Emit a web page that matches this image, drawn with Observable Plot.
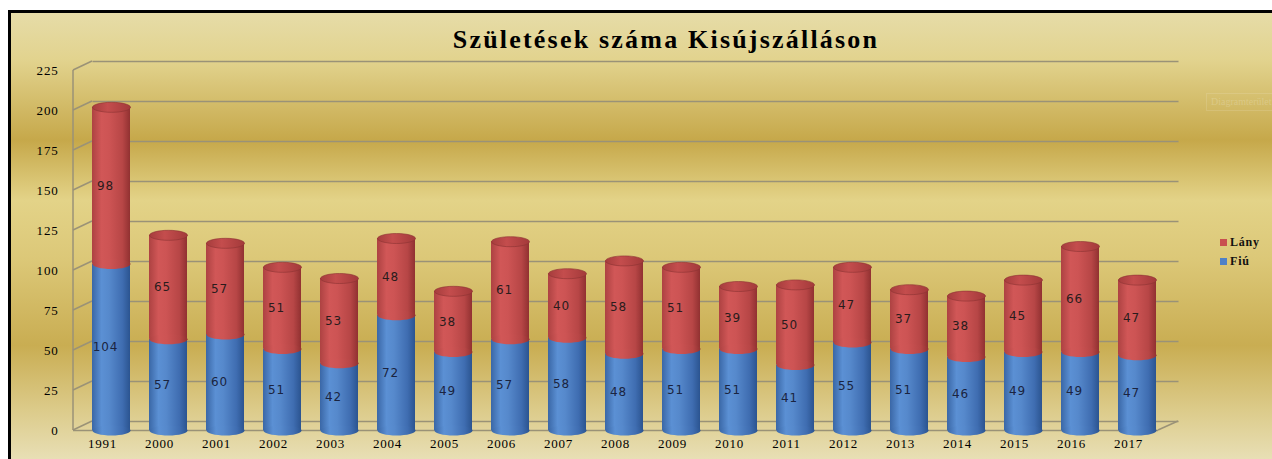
<!DOCTYPE html>
<html><head><meta charset="utf-8">
<script src="https://cdn.jsdelivr.net/npm/d3@7"></script>
<script src="https://cdn.jsdelivr.net/npm/@observablehq/plot@0.6"></script>
<style>
html,body{margin:0;padding:0;background:#fff;width:1272px;height:459px;overflow:hidden;}
#frame{position:absolute;left:8px;top:10px;width:1264px;height:449px;box-sizing:border-box;border-left:3px solid #000;border-top:3px solid #000;overflow:hidden;
background:linear-gradient(to bottom,#e6dca8 0%,#e2d38e 10.5%,#c6a84a 28.5%,#e3d388 42%,#dcc878 55%,#c9ad52 74.5%,#dccb8a 89%,#e8dfb5 100%);}
#title{position:absolute;left:0;top:13px;width:1310px;text-align:center;font-family:'Liberation Serif','Times New Roman',serif;font-weight:bold;font-size:26px;line-height:28px;letter-spacing:2.2px;color:#000;}
#chart{position:absolute;left:0;top:45px;width:1261px;}
#legend{position:absolute;left:1209px;top:220px;font-family:'Liberation Serif','Times New Roman',serif;font-weight:bold;font-size:12px;letter-spacing:0.8px;color:#111;}
#legend div{height:19px;line-height:19px;white-space:nowrap;}
#legend span.sw{display:inline-block;width:7px;height:7px;margin-right:3px;vertical-align:middle;position:relative;top:-1px;}
#ghost{position:absolute;left:1195px;top:80px;width:62px;height:16px;font-family:'Liberation Serif',serif;font-size:10px;color:rgba(255,255,255,0.2);border:1px solid rgba(255,255,255,0.12);padding-left:4px;line-height:16px;white-space:nowrap;overflow:hidden;}
</style></head>
<body>
<div id="frame">
  <div id="title">Születések száma Kisújszálláson</div>
  <div id="ghost">Diagramterület</div>
  <div id="chart"></div>
  <div id="legend"></div>
</div>
<script>
const years = ["1991","2000","2001","2002","2003","2004","2005","2006","2007","2008","2009","2010","2011","2012","2013","2014","2015","2016","2017"];
const fiu  = [104,57,60,51,42,72,49,57,58,48,51,51,41,55,51,46,49,49,47];
const lany = [98,65,57,51,53,48,38,61,40,58,51,39,50,47,37,38,45,66,47];
const yTicks = [0,25,50,75,100,125,150,175,200,225];
const seriesNames = ["Lány","Fiú"];
const seriesColors = ["#c94f4f","#4f81c7"];

const data = years.map((y,i)=>({year:y, fiu:fiu[i], lany:lany[i], total:fiu[i]+lany[i]}));

const RX = 19, RY = 5;
const ellipse = {draw(ctx){
  const k = 0.5523;
  ctx.moveTo(-RX,0);
  ctx.bezierCurveTo(-RX,-RY*k,-RX*k,-RY,0,-RY);
  ctx.bezierCurveTo(RX*k,-RY,RX,-RY*k,RX,0);
  ctx.bezierCurveTo(RX,RY*k,RX*k,RY,0,RY);
  ctx.bezierCurveTo(-RX*k,RY,-RX,RY*k,-RX,0);
  ctx.closePath();
}};

const gridColor = "#9a9277";
const plot = Plot.plot({
  width: 1261, height: 401,
  marginLeft: 71.5, marginRight: 106.5, marginTop: 12, marginBottom: 29,
  style: {background:"transparent", fontFamily:"'Liberation Serif','Times New Roman',serif", fontSize:"13px", color:"#000", overflow:"visible", letterSpacing:"0.8px", maxWidth:"none"},
  x: {domain: years, paddingInner: 0.3333, paddingOuter: 0.3333, range: [62, 1164], round: false, axis: null},
  y: {domain: [0,225], axis: null},
  marks: [
    Plot.ruleY(yTicks, {dy:-9, dx:10, insetRight:-3, stroke:gridColor, strokeWidth:1.5}),
    Plot.ruleY([0], {insetLeft:-9.5, insetRight:7.5, stroke:gridColor, strokeWidth:1.5}),
    Plot.axisY({ticks: yTicks, tickSize:0, tickPadding:24.5, anchor:"left", label:null, fontSize:13}),
    Plot.axisX({tickSize:0, tickPadding:8, dx:-9, label:null, fontSize:13}),
    Plot.barY(data, {x:"year", y1:0, y2:"fiu", fill:"url(#gBlue)"}),
    Plot.dot(data, {x:"year", y:0, symbol:ellipse, fill:"url(#gBlue)"}),
    Plot.barY(data, {x:"year", y1:"fiu", y2:"total", fill:"url(#gRed)"}),
    Plot.dot(data, {x:"year", y:"fiu", symbol:ellipse, fill:"url(#gRed)"}),
    Plot.dot(data, {x:"year", y:"total", symbol:ellipse, fill:"url(#gCap)", stroke:"#8c3232", strokeWidth:0.6}),
    Plot.text(data, {x:"year", y:d=>d.fiu/2, text:"fiu", dx:-6, fontFamily:"'DejaVu Sans',Verdana,sans-serif", fontSize:12, fill:"#1a2440"}),
    Plot.text(data, {x:"year", y:d=>d.fiu + d.lany/2, text:"lany", dx:-6, fontFamily:"'DejaVu Sans',Verdana,sans-serif", fontSize:12, fill:"#2a1c1c"})
  ]
});

const svg = d3.select(plot);
const defs = svg.insert("defs", ":first-child");
function grad(id, stops){
  const g = defs.append("linearGradient").attr("id", id).attr("x1","0").attr("x2","1").attr("y1","0").attr("y2","0");
  stops.forEach(([o,c])=>g.append("stop").attr("offset",o).attr("stop-color",c));
}
grad("gBlue", [[0,"#3a67a6"],[0.25,"#5b90d4"],[0.45,"#5689cc"],[0.8,"#3f6db1"],[1,"#2b5490"]]);
grad("gRed",  [[0,"#ad4242"],[0.25,"#d15757"],[0.45,"#cd5454"],[0.8,"#b74646"],[1,"#913131"]]);
grad("gCap",  [[0,"#a63d3d"],[0.4,"#c44d4d"],[1,"#a33a3a"]]);

// 3D wall / floor decoration through the y scale
const ys = plot.scale("y");
const deco = svg.append("g").attr("stroke", gridColor).attr("stroke-width", 1.5).attr("fill","none");
const wallX = 62, backX = 81, depth = 9;
deco.append("line").attr("x1",wallX).attr("x2",wallX).attr("y1",ys.apply(0)).attr("y2",ys.apply(225));
yTicks.forEach(v=>{
  deco.append("line").attr("x1",wallX).attr("y1",ys.apply(v)).attr("x2",backX).attr("y2",ys.apply(v)-depth);
});
deco.append("line").attr("x1",1147).attr("y1",ys.apply(0)).attr("x2",1167).attr("y2",ys.apply(0)-depth);
const node = deco.node();
node.parentNode.insertBefore(node, node.parentNode.children[2] || null);

document.getElementById("chart").appendChild(plot);

const leg = d3.select("#legend");
seriesNames.forEach((n,i)=>{
  const row = leg.append("div");
  row.append("span").attr("class","sw").style("background", seriesColors[i]);
  row.append("span").text(n);
});
</script>
</body></html>
